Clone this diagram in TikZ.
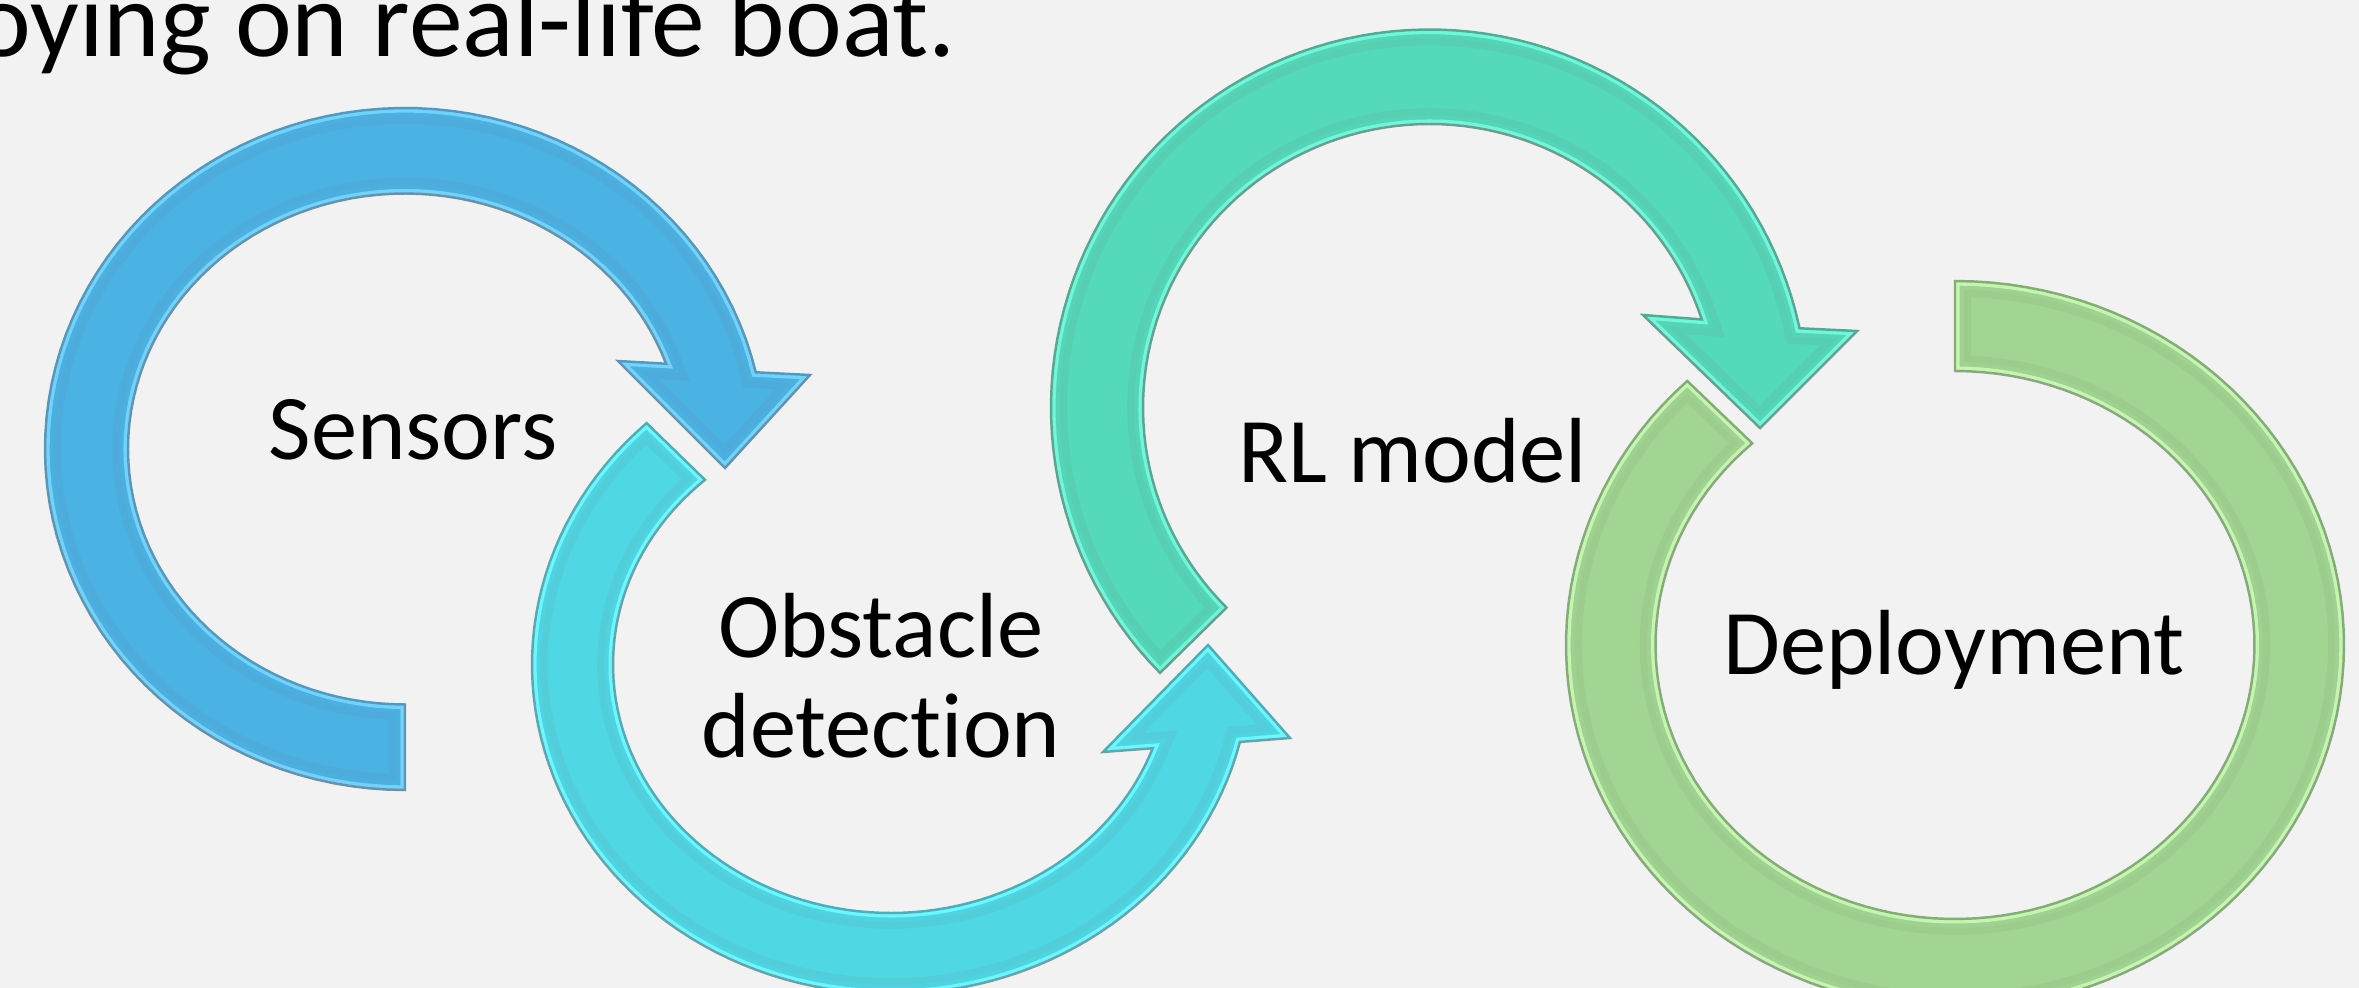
\documentclass[tikz,border=0pt]{standalone}
\usepackage{fontspec}
\setmainfont{Carlito}[Ligatures={NoCommon}]

\definecolor{pagebg}{HTML}{F2F2F2}
\definecolor{sensorsfill}{HTML}{4BB2E4}
\definecolor{sensorsrim}{HTML}{72D2FA}
\definecolor{sensorsedge}{HTML}{5B96B6}
\definecolor{obstaclefill}{HTML}{50D7E4}
\definecolor{obstaclerim}{HTML}{6CF7FF}
\definecolor{obstacleedge}{HTML}{5AA8B2}
\definecolor{modelfill}{HTML}{55D9BB}
\definecolor{modelrim}{HTML}{72F6DA}
\definecolor{modeledge}{HTML}{5CA592}
\definecolor{deployfill}{HTML}{A2D592}
\definecolor{deployrim}{HTML}{C6F5B2}
\definecolor{deployedge}{HTML}{86AA7A}

% outlines of the four ring arrows (pixel grid, y pointing down)
\newcommand\ringSensors{%
  plot[domain=90:347, samples=90, variable=\t] ({405+360*cos(\t)},{449+341*sin(\t)})
  -- (810,375) -- (725,468) -- (618,361)
  -- plot[domain=340.5:90, samples=90, variable=\t] ({405+277*cos(\t)},{449+255.5*sin(\t)})
  -- cycle}
\newcommand\ringObstacle{%
  plot[domain=227.1:13.6, samples=90, variable=\t] ({891+359*cos(\t)},{664.5+329.5*sin(\t)})
  -- (1290,738) -- (1208,645) -- (1103,752)
  -- plot[domain=19.7:228, samples=90, variable=\t] ({891+278*cos(\t)},{664.5+248.5*sin(\t)})
  -- cycle}
\newcommand\ringModel{%
  plot[domain=135.4:347.9, samples=90, variable=\t] ({1429.5+378.5*cos(\t)},{407.5+378*sin(\t)})
  -- (1857,331) -- (1760,428) -- (1643,315)
  -- plot[domain=341.9:135.1, samples=90, variable=\t] ({1429.5+286.5*cos(\t)},{407.5+283.5*sin(\t)})
  -- cycle}
\newcommand\ringDeploy{%
  plot[domain=270:586.5, samples=120, variable=\t] ({1955+389*cos(\t)},{645+364*sin(\t)})
  -- plot[domain=587.4:270, samples=120, variable=\t] ({1955+299.5*cos(\t)},{645+274*sin(\t)})
  -- cycle}

% filled ring with a soft bevel: darker band inside the edge, light rim, thin edge line
\newcommand\bevelfill[4]{%
  \fill[#2] #1;
  \begin{scope}
    \clip #1;
    \draw[#4, line width=9pt, line join=miter, opacity=0.18] #1;
    \draw[#2, line width=5pt, line join=miter, opacity=0.6] #1;
    \draw[#3, line width=2.6pt, line join=miter] #1;
  \end{scope}
  \draw[#4, line width=0.7pt, line join=miter] #1;}

\tikzset{
  steplabel/.style={font=\fontsize{26.3}{28.7}\selectfont, inner sep=0pt,
    text=black, anchor=base, align=center},
  headline/.style={font=\fontsize{30.6}{34}\selectfont, inner sep=0pt,
    text=black, anchor=base east},
}

\begin{document}
\begin{tikzpicture}[x=0.01cm, y=-0.01cm]
  \useasboundingbox (0,0) rectangle (2359,988);
  \fill[pagebg] (0,0) rectangle (2359,988);
  \begin{scope}
    \clip (0,0) rectangle (2359,988);

    \bevelfill{\ringSensors}{sensorsfill}{sensorsrim}{sensorsedge}
    \bevelfill{\ringObstacle}{obstaclefill}{obstaclerim}{obstacleedge}
    \bevelfill{\ringModel}{modelfill}{modelrim}{modeledge}
    \bevelfill{\ringDeploy}{deployfill}{deployrim}{deployedge}

    \node[headline] (headline) at (957,57) {oying on real-life boat.};
  \end{scope}

  \node[steplabel] (sensors)    at (413,460)  {Sensors};
  \node[steplabel] (obstacle)   at (881,758)  {Obstacle\\detection};
  \node[steplabel] (model)      at (1413,482) {RL model};
  \node[steplabel] (deployment) at (1954,675) {Deployment};
\end{tikzpicture}
\end{document}
